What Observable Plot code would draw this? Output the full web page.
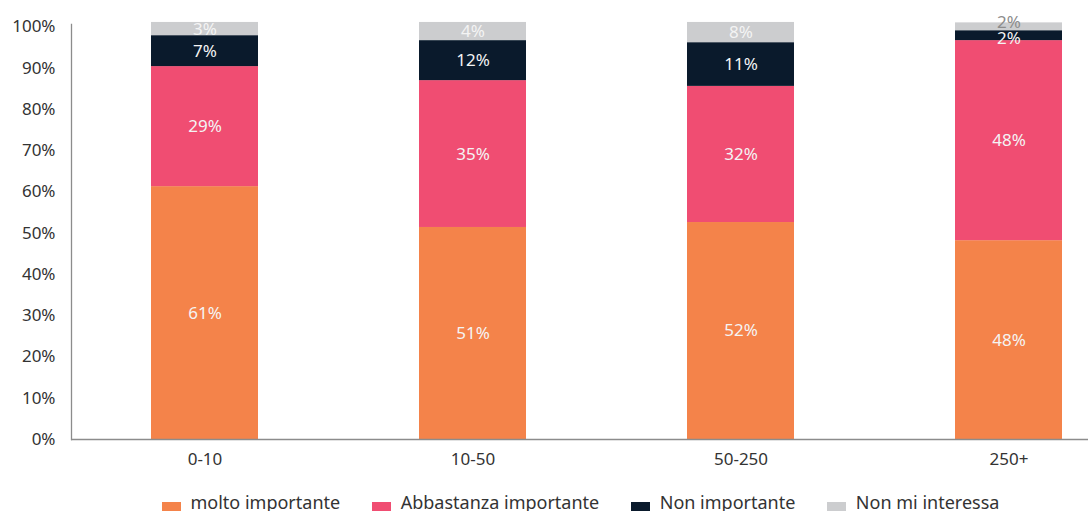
<!DOCTYPE html>
<html>
<head>
<meta charset="utf-8">
<script src="https://cdn.jsdelivr.net/npm/d3@7"></script>
<script src="https://cdn.jsdelivr.net/npm/@observablehq/plot@0.6"></script>
<style>
  html, body { margin: 0; padding: 0; overflow: hidden; background: #fff; }
  body { font-family: "Noto Sans", sans-serif; width: 1088px; height: 511px; position: relative; }
  #legend { position: absolute; top: 490px; left: 162px; display: flex; gap: 32px; }
  .item { display: flex; align-items: flex-start; font-size: 18px; line-height: 24px; color: #333; white-space: nowrap; }
  .sw { width: 19px; height: 19px; margin-top: 12px; margin-right: 9.5px; flex: none; }
</style>
</head>
<body>
<div id="chart"></div>
<div id="legend"></div>
<script>
const groups = ["0-10", "10-50", "50-250", "250+"];
const series = ["molto importante", "Abbastanza importante", "Non importante", "Non mi interessa"];
const colors = ["#F4834A", "#F04D72", "#0A1A2C", "#CCCDCF"];

// drawn segment heights (% of axis)
const molto = [61.3, 51.4, 52.6, 48.2];
const abbastanza = [29.1, 35.6, 33.0, 48.5];
const nonImportante = [7.5, 9.7, 10.6, 2.4];
const nonInteressa = [3.2, 4.4, 4.9, 1.9];

// printed labels
const moltoLabels = ["61%", "51%", "52%", "48%"];
const abbastanzaLabels = ["29%", "35%", "32%", "48%"];
const nonImportanteLabels = ["7%", "12%", "11%", "2%"];
const nonInteressaLabels = ["3%", "4%", "8%", "2%"];

const yTicks = [0, 10, 20, 30, 40, 50, 60, 70, 80, 90, 100];

const valueSets = [molto, abbastanza, nonImportante, nonInteressa];
const labelSets = [moltoLabels, abbastanzaLabels, nonImportanteLabels, nonInteressaLabels];
const rows = [];
series.forEach((s, si) => groups.forEach((g, gi) => {
  rows.push({group: g, series: s, value: valueSets[si][gi], label: labelSets[si][gi], si, gi});
}));

const isLastSmall = d => d.gi === 3 && d.si >= 2;

const stackOpts = (text) => ({x: "group", y: "value", z: "series", text, order: series});

const chart = Plot.plot({
  width: 1088,
  height: 484,
  marginLeft: 71,
  marginRight: 0,
  marginTop: 24,
  marginBottom: 45,
  style: {fontFamily: "Noto Sans, sans-serif", fontSize: "17px", color: "#333", background: "#fff"},
  x: {domain: groups, range: [70.6, 1142.6], paddingInner: 0.6, paddingOuter: 0.3, label: null},
  y: {domain: [0, 100], range: [439, 26.5], label: null},
  color: {domain: series, range: colors},
  marks: [
    Plot.barY(rows, Plot.stackY({x: "group", y: "value", z: "series", fill: "series", order: series})),
    Plot.text(rows, Plot.stackY({...stackOpts(d => isLastSmall(d) ? null : d.label), fill: "#f4f4f4", fontSize: 17})),
    Plot.text(rows, Plot.stackY({...stackOpts(d => (d.gi === 3 && d.si === 3) ? d.label : null), fill: "#8c8c8c", fontSize: 17, dy: -4})),
    Plot.text(rows, Plot.stackY({...stackOpts(d => (d.gi === 3 && d.si === 2) ? d.label : null), fill: "#f4f4f4", fontSize: 17, dy: 3})),
    Plot.axisY({ticks: yTicks, tickFormat: d => d + "%", tickSize: 0, tickPadding: 16, fontSize: 17, fill: "#333", label: null}),
    Plot.axisX({tickSize: 0, tickPadding: 13, fontSize: 17, fill: "#333", label: null}),
    Plot.frame({anchor: "left", stroke: "#8c8c8c", strokeWidth: 1.3}),
    Plot.ruleY([0], {stroke: "#8c8c8c", strokeWidth: 1.3})
  ]
});
document.getElementById("chart").appendChild(chart);

const legend = document.getElementById("legend");
series.forEach((s, i) => {
  const item = document.createElement("div");
  item.className = "item";
  const sw = document.createElement("span");
  sw.className = "sw";
  sw.style.background = colors[i];
  const t = document.createElement("span");
  t.textContent = s;
  item.appendChild(sw);
  item.appendChild(t);
  legend.appendChild(item);
});
</script>
</body>
</html>
